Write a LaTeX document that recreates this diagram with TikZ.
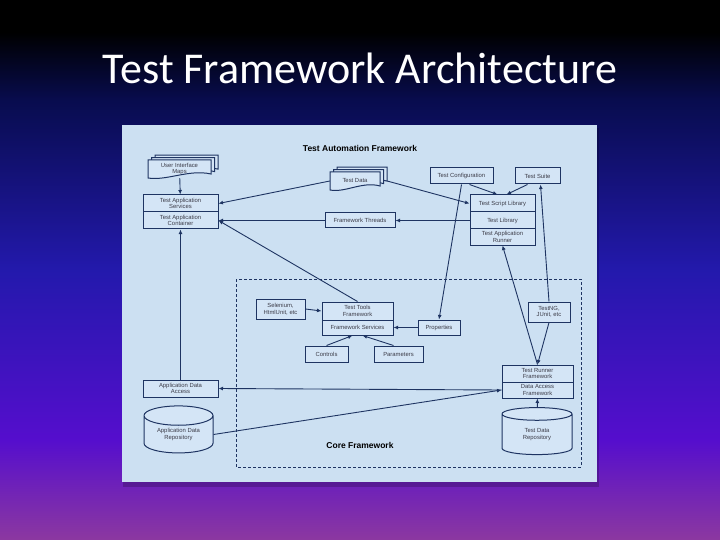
\documentclass[tikz,border=0pt]{standalone}
\usepackage{fontspec}
\setmainfont{Liberation Sans}
\newfontfamily\titlefont{Carlito}
\usepackage{tikz}
\usetikzlibrary{arrows.meta,positioning,shapes.geometric,calc}
\usepackage{xcolor}
\definecolor{panel}{RGB}{204,224,242}
\definecolor{boxfill}{RGB}{212,229,246}
\definecolor{navy}{RGB}{30,52,98}
\definecolor{boxtext}{RGB}{60,60,72}
\definecolor{bgB}{RGB}{8,12,78}
\definecolor{bgC}{RGB}{35,25,172}
\definecolor{bgD}{RGB}{85,14,205}
\definecolor{bgE}{RGB}{140,56,160}
\pgfdeclareverticalshading{slidebg}{100bp}{color(0bp)=(bgE); color(25bp)=(bgE); color(34.26bp)=(bgD); color(50bp)=(bgC); color(65.74bp)=(bgB); color(72bp)=(black); color(100bp)=(black)}
\tikzstyle{fwbox}=[draw=navy, line width=1pt, fill=boxfill, text=boxtext, font=\fontsize{5.9}{6.5}\selectfont, align=center, inner sep=0pt]
\tikzstyle{docsheet}=[draw=navy, line width=1pt, fill=boxfill]
\tikzstyle{doctext}=[text=boxtext, font=\fontsize{5.9}{6.5}\selectfont, align=center, inner sep=0pt]
\tikzstyle{dbcyl}=[cylinder, shape border rotate=90, aspect=0.45, draw=navy, line width=1pt, fill=boxfill, text=boxtext, font=\fontsize{5.9}{6.5}\selectfont, align=center, inner sep=0pt]
\tikzstyle{link}=[navy, line width=0.9pt, -{Latex[length=4.5pt,width=4pt]}]
\newcommand{\docstack}[5]{
	\begin{scope}[shift={#2}]
		\foreach \o in {7,3.5,0} {
			\filldraw[docsheet] (-#3+\o,-#4-\o*0.7) -- (#3+\o,-#4-\o*0.7) -- (#3+\o,#4-4-\o*0.7) .. controls (0.3*#3+\o,#4-9-\o*0.7) and (-0.4*#3+\o,#4+3-\o*0.7) .. (-#3+\o,#4-\o*0.7) -- cycle;
		}
	\end{scope}
	\node[doctext, minimum width=2*#3pt, minimum height=2*#4pt] (#1) at #2 {#5};
}

\begin{document}
\begin{tikzpicture}[x=1pt, y=-1pt]
	\useasboundingbox (0,0) rectangle (720,540);
	\shade[shading=slidebg] (0,0) rectangle (720,540);
	\node[text=white, font=\titlefont\fontsize{44}{44}\selectfont] (title) at (360,68) {Test Framework Architecture};
	% panel
	\fill[black, opacity=0.2] (123,128) rectangle (599,487);
	\fill[panel] (122,125) rectangle (597,482);
	\node[font=\bfseries\fontsize{8.5}{9}\selectfont] (tafl) at (360,148) {Test Automation Framework};
	\draw[navy, line width=0.9pt, dash pattern=on 3pt off 2pt] (236,279) rectangle (581,467);
	\node[font=\bfseries\fontsize{8.5}{9}\selectfont] (cfl) at (360,445) {Core Framework};
	% left column
	\docstack{uimaps}{(179.5,169)}{31.5}{9}{User Interface\\Maps}
	\node[fwbox, minimum width=75pt, minimum height=17pt] (tas) at (180.5,203.5) {Test Application\\Services};
	\node[fwbox, minimum width=75pt, minimum height=17pt, below=-1pt of tas] (tac) {Test Application\\Container};
	\node[fwbox, minimum width=75pt, minimum height=17pt] (ada) at (180.5,388.5) {Application Data\\Access};
	\node[dbcyl, minimum width=69pt, minimum height=47pt] (adr) at (178.5,434.5) {Application Data\\Repository};
	% top middle and right
	\docstack{testdata}{(355,181)}{25}{9}{Test Data}
	\node[fwbox, minimum width=70pt, minimum height=15pt] (threads) at (360,220.5) {Framework Threads};
	\node[fwbox, minimum width=63pt, minimum height=16pt] (tconf) at (461.5,176) {Test Configuration};
	\node[fwbox, minimum width=45pt, minimum height=16pt] (tsuite) at (537.5,176) {Test Suite};
	\node[fwbox, minimum width=65pt, minimum height=17pt] (tsl) at (502.5,203.5) {Test Script Library};
	\node[fwbox, minimum width=65pt, minimum height=17pt, below=-1pt of tsl] (tlib) {Test Library};
	\node[fwbox, minimum width=65pt, minimum height=16pt, below=-1pt of tlib] (tar) {Test Application\\Runner};
	% core framework
	\node[fwbox, minimum width=49pt, minimum height=20pt] (selenium) at (280.5,309) {Selenium,\\HtmlUnit, etc};
	\node[fwbox, minimum width=71pt, minimum height=18pt] (ttf) at (357.5,311) {Test Tools\\Framework};
	\node[fwbox, minimum width=71pt, minimum height=15pt, below=-1pt of ttf] (fserv) {Framework Services};
	\node[fwbox, minimum width=42pt, minimum height=15pt] (props) at (439,327.5) {Properties};
	\node[fwbox, minimum width=43pt, minimum height=16pt] (controls) at (326.5,354) {Controls};
	\node[fwbox, minimum width=49pt, minimum height=16pt] (params) at (398.5,354) {Parameters};
	\node[fwbox, minimum width=42pt, minimum height=20pt] (testng) at (549,312) {TestNG,\\JUnit, etc};
	\node[fwbox, minimum width=71pt, minimum height=17pt] (trf) at (537.5,373.5) {Test Runner\\Framework};
	\node[fwbox, minimum width=71pt, minimum height=16pt, below=-1pt of trf] (daf) {Data Access\\Framework};
	\node[dbcyl, minimum width=70pt, minimum height=47pt] (tdr) at (537,434.5) {Test Data\\Repository};
	% connectors
	\draw[link] (uimaps) -- (tas);
	\draw[link] (testdata.west) -- (tas.east);
	\draw[link] (threads.west) -- (tac.east);
	\draw[link] (ttf.north) -- (tac.east);
	\draw[link] (ada) -- (tac);
	\draw[link] (daf.west) -- (ada.east);
	\draw[link] (adr.east) -- (daf.west);
	\draw[link] (tdr) -- (daf);
	\draw[link] ([xshift=7pt]testdata.east) -- (tsl.west);
	\draw[link] ([xshift=8pt]tconf.south) -- ([xshift=-5pt]tsl.north);
	\draw[link] ([xshift=-10pt]tsuite.south) -- ([xshift=4pt]tsl.north);
	\draw[link] (tlib.west) -- (threads.east);
	\draw[link] (tconf.south) -- (props.north);
	\draw[link] (testng.north) -- ([xshift=3pt]tsuite.south);
	\draw[link] (testng.south) -- (trf.north);
	\draw[link] (trf.north) -- (tar.south);
	\draw[link] (selenium.east) -- (ttf.west);
	\draw[link] (props.west) -- (fserv.east);
	\draw[link] (controls.north) -- ([xshift=-5pt]fserv.south);
	\draw[link] ([xshift=-5pt]params.north) -- ([xshift=5pt]fserv.south);
\end{tikzpicture}
\end{document}
